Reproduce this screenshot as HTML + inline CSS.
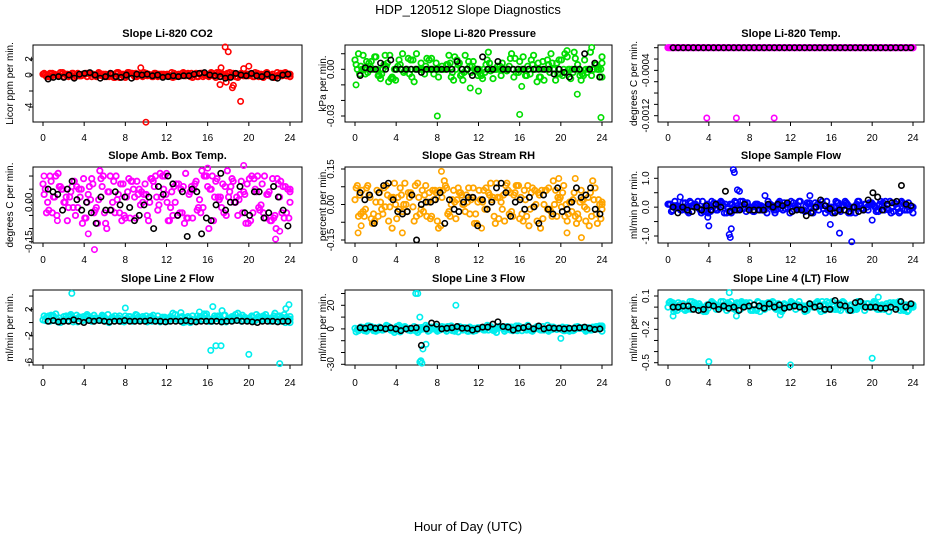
<!DOCTYPE html>
<html><head><meta charset="utf-8"><style>
html,body{margin:0;padding:0;background:#fff}
svg{display:block;font-family:"Liberation Sans",Arial,sans-serif}
</style></head><body>
<svg id="chart" width="936" height="540" viewBox="0 0 936 540">
<rect width="936" height="540" fill="#fff"/>
<text x="468" y="14" text-anchor="middle" font-size="13">HDP_120512  Slope Diagnostics</text>
<text x="468" y="531" text-anchor="middle" font-size="13">Hour of Day (UTC)</text>
</svg>
<script>
const xTicks=[0,4,8,12,16,20,24];
// panel 1 CO2
const co2Cloud=[0.1,-0.2,0.2,0.0,-0.1,0.3,-0.2,0.1,0.0,-0.3,0.2,-0.1,0.1,0.2,-0.2,0.0,0.3,-0.1,0.1,-0.2,0.0,0.2,-0.3,0.1,-0.1,0.2,0.0,-0.2,0.1,0.3,-0.1,0.0,0.2,-0.2,0.1,-0.1,0.0,0.3,-0.2,0.1,0.2,-0.1,0.0,-0.3,0.2,0.1,-0.2,0.0,0.1,-0.1,0.3,-0.2,0.0,0.2,-0.1,0.1,-0.3,0.2,0.0,-0.1,0.1,0.3,-0.2,0.0,0.2,-0.1,0.1,-0.2,0.0,0.2,-0.1,0.1];
const co2OutX=[17.7,18.0,10.0,19.2,17.2,18.4,18.5,20.0,9.5,17.3,17.8,19.5];
const co2OutY=[3.5,2.9,-5.9,-3.3,-1.2,-1.6,-1.3,1.1,0.9,0.9,-0.9,0.8];
const co2Black=[-0.5,-0.3,-0.2,-0.3,0.0,-0.4,0.1,0.2,0.3,0.0,-0.4,-0.2,0.2,-0.2,-0.3,0.0,-0.4,0.1,0.0,0.1,-0.1,0.0,-0.3,-0.2,-0.1,-0.2,-0.1,-0.1,0.1,0.2,0.3,0.0,-0.1,-0.2,-0.4,-0.3,0.2,0.0,-0.1,0.2,-0.1,-0.2,0.1,-0.3,-0.4,0.0,0.1];
// panel 2 pressure
const presCloud=[0.006,0.01,0.0,-0.003,0.004,0.0,0.008,-0.004,0.0,0.002,0.009,-0.006,0.0,0.003,-0.002,0.0,0.006,-0.008,0.0,0.004,-0.003,0.0,0.007,0.0,-0.005,0.002,0.0,0.009,-0.002,0.0,0.004,-0.007,0.0,0.002,0.005,0.0,-0.003,0.0,0.006,-0.001,0.0,0.002,-0.004,0.0,0.0,0.01,0.007,-0.002,0.0,-0.004,0.0,0.003,0.0,-0.005,0.005,0.0,-0.002,0.0,0.004,-0.003,0.0,0.008,-0.006,0.011,0.003,-0.007,0.006,0.0,-0.004,0.003,0.0,-0.005];
const presOutX=[8.0,16.0,23.9,0.1,23.0,20.6,16.2,12.0,11.2,21.6];
const presOutY=[-0.03,-0.029,-0.031,-0.01,0.014,0.012,-0.011,-0.014,-0.012,-0.016];
const presBlack=[-0.004,0.001,0.0,0.0,0.004,0.0,0.006,0.0,0.0,0.0,0.0,0.0,-0.002,0.0,0.0,0.0,0.0,0.0,0.0,0.005,0.0,0.0,-0.004,0.0,0.008,0.0,0.0,0.005,0.0,0.0,0.0,0.0,0.0,0.0,0.0,0.0,0.0,0.0,-0.003,0.0,-0.002,-0.005,0.0,0.0,0.01,0.0,0.004,-0.005];
// panel 3 temp
const tempCloud=[0,0,0,0,0,0,0,0,0,0,0,0,0,0,0,0,0,0,0,0,0,0,0,0,0,0,0,0,0,0,0,0,0,0,0,0,0,0,0,0,0,0,0,0,0,0,0,0,0,0,0,0,0,0,0,0,0,0,0,0,0,0,0,0,0,0,0,0,0,0,0,0];
const tempOutX=[3.8,6.7,10.4];
const tempOutY=[-0.00124,-0.00124,-0.00124];
const tempBlack=[0,0,0,0,0,0,0,0,0,0,0,0,0,0,0,0,0,0,0,0,0,0,0,0,0,0,0,0,0,0,0,0,0,0,0,0,0,0,0,0,0,0,0,0,0,0,0,0];
// panel 4 amb box temp
const ambCloud=[0.07,-0.04,0.1,0.02,-0.05,0.06,0.0,-0.07,0.04,0.08,-0.02,0.05,-0.06,0.03,0.09,-0.03,0.01,0.06,-0.08,0.04,0.0,0.1,-0.04,0.07,0.02,-0.06,0.05,0.08,-0.01,0.03,-0.05,0.09,0.06,-0.03,0.02,0.1,-0.07,0.04,0.0,0.07,-0.04,0.11,0.03,-0.06,0.08,0.01,-0.02,0.1,0.05,-0.07,0.09,0.02,-0.04,0.12,0.06,0.0,-0.05,0.08,0.03,-0.08,0.1,0.05,-0.02,0.07,-0.06,0.04,0.09,-0.1,0.02,0.06,-0.04,0.05];
const ambOutX=[5.0,23.0,22.6,4.4,1.4,19.5,16.0,12.0,0.1];
const ambOutY=[-0.18,-0.11,-0.14,-0.12,-0.07,0.14,0.13,0.11,0.1];
const ambBlack=[0.05,0.04,0.03,-0.03,0.05,0.08,0.01,-0.03,0.0,-0.04,-0.08,0.02,-0.03,-0.03,0.04,-0.01,0.02,-0.02,-0.07,-0.05,-0.01,0.02,-0.1,0.06,0.03,0.1,0.07,-0.05,0.04,-0.13,0.05,0.04,-0.12,-0.06,-0.07,-0.01,0.11,-0.03,0.0,0.0,0.06,-0.04,-0.05,0.04,0.04,-0.06,-0.04,0.06,0.02,-0.03,-0.09];
// panel 5 gas stream RH
const rhCloud=[0.02,-0.05,0.06,-0.02,0.04,-0.08,0.01,0.05,-0.04,0.08,-0.01,0.03,-0.06,0.07,0.0,-0.03,0.05,-0.07,0.09,-0.02,0.04,0.01,-0.05,0.06,-0.1,0.03,0.08,-0.03,0.02,-0.06,0.05,0.0,0.04,-0.04,0.07,-0.08,0.02,0.06,-0.02,0.09,-0.05,0.03,0.01,-0.07,0.06,-0.03,0.05,0.08,-0.04,0.02,-0.09,0.07,0.0,0.04,-0.06,0.06,-0.02,0.1,-0.05,0.03,0.08,-0.07,0.01,0.05,-0.04,0.06,-0.01,0.03,-0.05,0.07,0.02,0.0];
const rhOutX=[0.3,4.6,8.4,12.3,20.6,22.0,21.4,19.8,0.6];
const rhOutY=[-0.12,-0.12,0.14,-0.1,-0.12,-0.14,0.11,0.11,-0.09];
const rhBlack=[0.05,0.02,0.04,-0.08,0.05,0.08,0.09,0.02,-0.03,-0.04,-0.03,0.04,-0.15,0.0,0.01,0.01,0.02,0.05,-0.08,0.02,-0.02,-0.03,0.01,0.03,0.03,-0.09,0.02,-0.02,0.01,0.07,0.09,0.05,-0.05,0.01,0.02,-0.02,0.03,-0.01,-0.08,0.04,-0.02,-0.04,0.07,-0.03,-0.02,0.01,0.07,0.03,0.04,0.07,-0.02,-0.04];
// panel 6 sample flow
const sfCloud=[0.1,-0.15,0.2,0.0,-0.1,0.15,-0.2,0.05,0.1,-0.05,0.2,-0.15,0.0,0.1,-0.1,0.15,0.05,-0.2,0.1,0.0,-0.1,0.2,-0.05,0.15,0.0,-0.15,0.1,0.05,-0.1,0.2,0.0,-0.2,0.15,0.05,-0.05,0.1,-0.15,0.0,0.2,-0.1,0.05,0.15,-0.2,0.0,0.1,-0.05,0.2,-0.1,0.0,0.15,-0.15,0.05,0.1,-0.2,0.0,0.2,-0.05,0.1,-0.1,0.15,0.0,-0.15,0.05,0.2,-0.1,0.0,0.1,-0.2,0.15,0.05,-0.1,0.0];
const sfOutX=[6.4,6.5,6.0,6.1,6.2,4.0,15.9,16.8,18.0,6.8,1.2,9.5,13.9,7.0,20.0,3.9];
const sfOutY=[1.3,1.2,-0.95,-1.05,-0.75,-0.65,-0.6,-0.9,-1.2,0.6,0.35,0.4,0.4,0.55,-0.45,-0.35];
const sfBlack=[0.0,-0.2,0.0,-0.1,-0.15,0.0,-0.1,0.05,-0.1,0.1,0.0,0.55,-0.15,-0.1,-0.1,0.1,-0.1,-0.1,-0.1,-0.1,0.1,0.0,0.1,0.05,0.15,-0.15,-0.1,-0.1,-0.3,-0.2,0.0,0.25,0.05,-0.05,-0.2,-0.1,-0.1,-0.15,0.0,-0.15,-0.1,0.25,0.5,0.35,-0.1,0.1,0.15,0.2,0.75,0.1,0.05];
// panel 7 line 2 flow
const l2Cloud=[0.4,0.8,0.2,1.0,0.5,0.0,0.9,0.3,1.2,0.6,0.1,0.8,0.4,1.0,0.2,0.7,0.5,1.1,0.3,0.0,0.8,0.5,1.0,0.2,0.6,0.9,0.3,1.1,0.4,0.7,0.1,0.9,0.5,1.0,0.3,0.8,0.2,0.6,1.2,0.4,0.9,0.1,0.7,1.0,0.3,0.8,0.5,1.3,0.2,0.6,0.9,0.4,1.1,0.3,0.7,0.5,1.4,0.2,0.8,0.6,1.0,0.3,0.9,0.5,1.2,0.4,0.7,0.2,1.0,0.6,0.8,0.5];
const l2OutX=[2.8,8.0,16.3,16.8,17.3,16.5,17.4,20.0,23.0,23.6,23.9,15.2,13.4];
const l2OutY=[4.4,2.2,-4.2,-3.5,-3.5,2.4,1.8,-4.8,-6.2,2.1,2.7,1.6,1.5];
const l2Black=[0.2,0.3,0.1,0.2,0.2,0.4,0.2,0.0,0.3,0.2,0.3,0.2,0.1,0.2,0.2,0.3,0.2,0.2,0.2,0.2,0.3,0.2,0.2,0.1,0.2,0.2,0.2,0.3,0.2,0.1,0.2,0.2,0.2,0.2,0.1,0.2,0.2,0.3,0.2,0.2,0.1,0.0,0.2,0.2,0.2,0.1,0.2,0.2];
// panel 8 line 3 flow
const l3Cloud=[0.5,-1.5,1.2,-0.8,2.5,0.0,-2.0,1.5,-1.0,3.0,0.5,-1.2,2.0,-2.5,1.0,0.0,-1.5,2.0,-3.0,1.0,0.5,-2.0,1.5,0.0,-1.0,2.0,-0.5,1.0,-1.5,0.5,2.0,-1.0,0.0,1.5,-2.0,0.5,1.0,-1.0,3.0,2.0,-1.5,0.5,1.0,-2.0,0.0,1.5,-1.0,2.5,-1.5,0.5,0.0,-2.0,1.0,-0.5,2.0,0.0,-1.0,1.5,-0.5,0.5,-1.5,1.0,0.0,-1.0,2.0,0.5,-0.5,1.0,-1.0,0.5,0.0,2.5];
const l3OutX=[5.9,6.1,6.3,6.4,6.5,6.6,6.9,9.8,20.0,6.3];
const l3OutY=[30.0,30.0,10.0,-27.0,-29.0,-17.0,-13.0,20.0,-8.0,-28.0];
const l3Black=[1.0,0.5,1.5,0.5,1.0,0.0,1.0,0.0,-1.5,0.0,0.5,1.0,-14.0,0.0,5.0,4.0,0.0,0.5,1.0,2.0,0.5,0.5,-1.0,0.0,1.5,1.5,4.0,6.0,2.0,1.5,-1.0,0.5,1.0,2.0,0.0,2.5,0.0,1.0,0.5,0.5,0.0,0.5,0.5,1.0,1.5,0.5,-0.5,0.0];
// panel 9 line 4 flow
const l4Cloud=[0.0,0.03,-0.02,0.04,0.01,-0.03,0.02,0.05,-0.01,0.03,0.0,-0.04,0.02,0.04,-0.02,0.01,0.05,-0.03,0.02,0.0,0.04,-0.02,0.03,0.01,-0.03,0.02,0.05,0.0,-0.02,0.04,0.01,-0.01,0.03,-0.04,0.02,0.0,0.04,-0.02,0.05,0.01,-0.03,0.03,0.0,0.04,-0.02,0.02,0.05,-0.01,0.01,0.03,-0.03,0.04,0.0,0.02,-0.02,0.05,0.01,-0.03,0.03,0.0,0.04,-0.02,0.02,0.01,-0.04,0.03,0.0,0.05,-0.02,0.02,0.01,0.0];
const l4OutX=[6.0,4.0,12.0,20.0,0.5,6.7,20.6,11.0];
const l4OutY=[0.13,-0.49,-0.52,-0.46,-0.08,-0.08,0.09,-0.07];
const l4Black=[0.0,0.0,0.01,0.01,-0.02,-0.03,-0.02,0.02,0.01,-0.02,0.01,-0.01,0.0,-0.03,0.0,0.01,0.02,0.01,-0.01,0.03,0.0,0.02,-0.01,0.0,0.01,0.0,-0.02,0.03,0.0,0.01,-0.02,-0.02,0.06,0.02,0.01,-0.03,0.04,0.05,0.0,0.0,0.0,-0.01,-0.01,0.0,-0.02,0.05,0.0,0.03];

const panels=[
 {name:'co2',title:'Slope Li-820 CO2',ylab:'Licor ppm per min.',col:0,row:0,color:'#ff0000',cloud:co2Cloud,ox:co2OutX,oy:co2OutY,black:co2Black,ref:[0,75,2,59],ticks:[2,0,-2,-4],labels:['2','0','','-4']},
 {name:'pressure',title:'Slope Li-820 Pressure',ylab:'kPa per min.',col:1,row:0,color:'#00dd00',cloud:presCloud,ox:presOutX,oy:presOutY,black:presBlack,ref:[0,69.3,-0.03,116],ticks:[0.01,0,-0.01,-0.02,-0.03],labels:['','0.00','','','-0.03']},
 {name:'li820-temp',title:'Slope Li-820 Temp.',ylab:'degrees C per min.',col:2,row:0,color:'#ff00ff',cloud:tempCloud,ox:tempOutX,oy:tempOutY,black:tempBlack,ref:[0,47.7,-0.0012,115.7],ticks:[0,-0.0002,-0.0004,-0.0006,-0.0008,-0.001,-0.0012],labels:['','','-0.0004','','','','-0.0012']},
 {name:'amb-box-temp',title:'Slope Amb. Box Temp.',ylab:'degrees C per min.',col:0,row:1,color:'#ff00ff',cloud:ambCloud,ox:ambOutX,oy:ambOutY,black:ambBlack,ref:[0,202.3,-0.15,241.7],ticks:[0.1,0.05,0,-0.05,-0.1,-0.15],labels:['','','0.00','','','-0.15']},
 {name:'gas-stream-rh',title:'Slope Gas Stream RH',ylab:'percent per min.',col:1,row:1,color:'#ffa500',cloud:rhCloud,ox:rhOutX,oy:rhOutY,black:rhBlack,ref:[0.15,169,-0.15,240],ticks:[0.15,0.075,0,-0.075,-0.15],labels:['0.15','','0.00','','-0.15']},
 {name:'sample-flow',title:'Slope Sample Flow',ylab:'ml/min per min.',col:2,row:1,color:'#0000ff',cloud:sfCloud,ox:sfOutX,oy:sfOutY,black:sfBlack,ref:[1,178.3,-1,236],ticks:[1,0.5,0,-0.5,-1],labels:['1.0','','0.0','','-1.0']},
 {name:'line2-flow',title:'Slope Line 2 Flow',ylab:'ml/min per min.',col:0,row:2,color:'#00eeee',cloud:l2Cloud,ox:l2OutX,oy:l2OutY,black:l2Black,ref:[2,309.3,-6,362.3],ticks:[4,2,0,-2,-4,-6],labels:['','2','','-2','','-6']},
 {name:'line3-flow',title:'Slope Line 3 Flow',ylab:'ml/min per min.',col:1,row:2,color:'#00eeee',cloud:l3Cloud,ox:l3OutX,oy:l3OutY,black:l3Black,ref:[20,305.3,-30,364.3],ticks:[30,20,10,0,-10,-20,-30],labels:['','20','','0','','','-30']},
 {name:'line4-flow',title:'Slope Line 4 (LT) Flow',ylab:'ml/min per min.',col:2,row:2,color:'#00eeee',cloud:l4Cloud,ox:l4OutX,oy:l4OutY,black:l4Black,ref:[0.1,296,-0.5,362.7],ticks:[0.1,0,-0.1,-0.2,-0.3,-0.4,-0.5],labels:['0.1','','','-0.2','','','-0.5']}
];
const cols=[{bx0:33,bx1:302,x0:43,x24:290,lab:28,ylab:9},{bx0:345,bx1:612,x0:355,x24:602,lab:330,ylab:322},{bx0:658,bx1:924,x0:668,x24:913,lab:645,ylab:633}];
const rows=[{top:45,bot:122,tl:141,title:37},{top:167,bot:243,tl:263,title:159},{top:290,bot:365,tl:386,title:282}];
const NS='http://www.w3.org/2000/svg';
const svg=document.getElementById('chart');
function mk(tag,attrs,parent,text){const e=document.createElementNS(NS,tag);for(const k in attrs)e.setAttribute(k,attrs[k]);if(text!==undefined)e.textContent=text;parent.appendChild(e);return e;}
panels.forEach(p=>{
 const c=cols[p.col],r=rows[p.row];
 const g=mk('g',{},svg);
 
 
 const xs=h=>c.x0+h*(c.x24-c.x0)/24;
 const ys=v=>p.ref[1]+(v-p.ref[0])*(p.ref[3]-p.ref[1])/(p.ref[2]-p.ref[0]);
 const t=mk('text',{x:(c.bx0+c.bx1)/2,y:r.title,'text-anchor':'middle','font-size':11,'font-weight':'bold'},g,p.title);
 
 
 const yl=mk('text',{x:0,y:0,'text-anchor':'middle','font-size':10,transform:`translate(${c.ylab+4},${(r.top+r.bot)/2}) rotate(-90)`},g,p.ylab);
 
 
 const box=mk('rect',{x:c.bx0,y:r.top,width:c.bx1-c.bx0,height:r.bot-r.top,fill:'none',stroke:'#000','stroke-width':1},g);
 
 
 xTicks.forEach(h=>{
  mk('line',{x1:xs(h),x2:xs(h),y1:r.bot,y2:r.bot+4,stroke:'#000'},g);
  const tl=mk('text',{x:xs(h),y:r.tl,'text-anchor':'middle','font-size':10},g,String(h));
  
  
 });
 p.ticks.forEach((v,i)=>{
  const y=ys(v);
  mk('line',{x1:c.bx0-4,x2:c.bx0,y1:y,y2:y,stroke:'#000'},g);
  if(p.labels[i]){
   const tl=mk('text',{x:0,y:0,'text-anchor':'middle','font-size':10,transform:`translate(${c.lab+4},${y}) rotate(-90)`},g,p.labels[i]);
   
   
  }
 });
 const n=p.cloud.length;
 for(let pass=0;pass<3;pass++){
  p.cloud.forEach((v0,i)=>{
   const v=pass===0?v0:p.cloud[(i*7+pass*13)%n];
   const h=Math.min(24,(i+pass/3)*24/(n-1));
   const pt=mk('circle',{cx:xs(h),cy:ys(v),r:2.7,fill:'none',stroke:p.color,'stroke-width':1.8},g);
   
   
  });
 }
 p.ox.forEach((h,i)=>{
  const pt=mk('circle',{cx:xs(h),cy:ys(p.oy[i]),r:2.7,fill:'none',stroke:p.color,'stroke-width':1.6},g);
  
  
 });
 const m=p.black.length;
 p.black.forEach((v,i)=>{
  const h=0.5+i*23.3/(m-1);
  const pt=mk('circle',{cx:xs(h),cy:ys(v),r:2.7,fill:'none',stroke:'#000','stroke-width':1.6},g);
  
  
 });
});
</script>
</body></html>
